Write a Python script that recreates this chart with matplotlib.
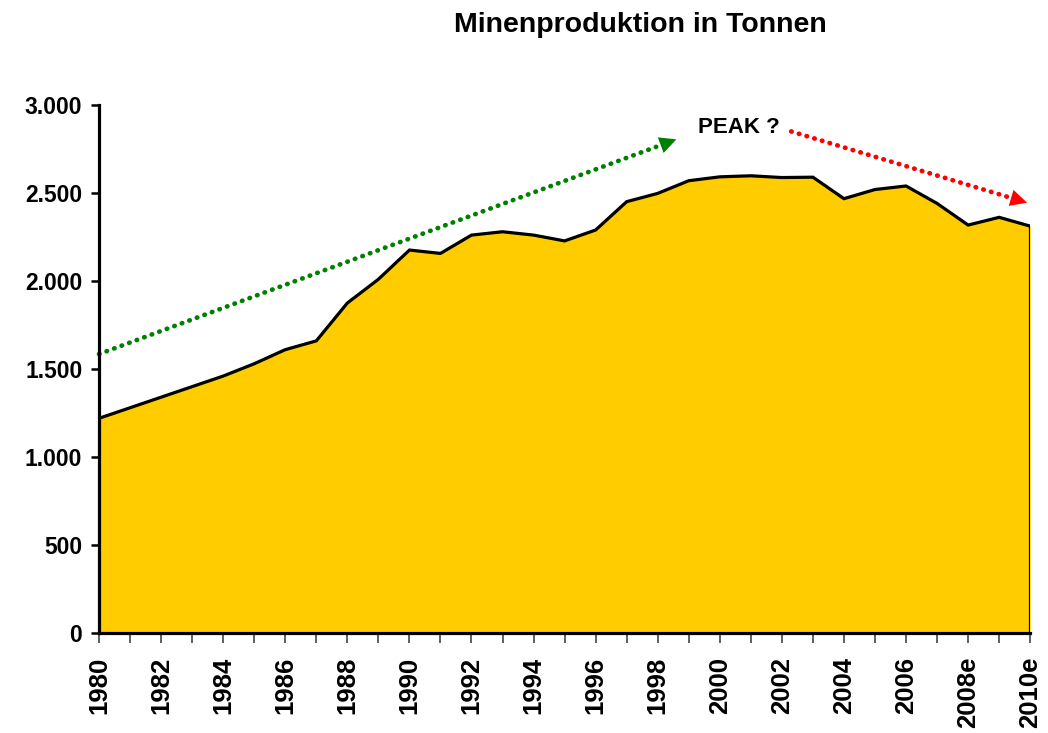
import matplotlib.pyplot as plt
from matplotlib.ticker import FuncFormatter, MultipleLocator

plt.rcParams['font.family'] = ['Liberation Sans', 'DejaVu Sans']
plt.rcParams['font.weight'] = 'bold'

# Minenproduktion in Tonnen, 1980 - 2010 (2008, 2010 geschaetzt)
jahre = list(range(1980, 2011))
tonnen = [1220, 1280, 1340, 1400, 1460, 1530, 1610, 1660, 1875, 2010,
          2176, 2157, 2261, 2280, 2261, 2228, 2290, 2451, 2498, 2570,
          2592, 2598, 2588, 2590, 2468, 2520, 2540, 2441, 2318, 2362,
          2312]
xlabels = ['1980', '1982', '1984', '1986', '1988', '1990', '1992', '1994',
           '1996', '1998', '2000', '2002', '2004', '2006', '2008e', '2010e']

# Trendpfeile (Start, Ende) in Datenkoordinaten
pfeil_gruen = [(1980.0, 1585), (1998.6, 2805)]
pfeil_rot = [(2002.3, 2850), (2009.9, 2445)]

fig = plt.figure(figsize=(10.48, 7.33), dpi=100)
ax = fig.add_axes([0.0945, 0.1364, 0.8885, 0.7203])

ax.fill_between(jahre, tonnen, 0, color='#FFCC00', lw=0)
ax.plot(jahre, tonnen, color='black', lw=2.3, solid_joinstyle='miter')
ax.plot([jahre[-1], jahre[-1]], [0, tonnen[-1]], color='black', lw=2.3)

def pfeil(p, farbe):
    (x0, y0), (x1, y1) = p
    ax.plot([x0, x1 - (x1 - x0) * 0.035], [y0, y1 - (y1 - y0) * 0.035],
            color=farbe, lw=3.4, linestyle=(0, (0.1, 1.6)),
            dash_capstyle='round', clip_on=False)
    ax.annotate('', xy=(x1, y1),
                xytext=(x1 - (x1 - x0) * 0.05, y1 - (y1 - y0) * 0.05),
                arrowprops=dict(arrowstyle='-|>', color=farbe, lw=0,
                                mutation_scale=30, shrinkA=0, shrinkB=0),
                annotation_clip=False)

pfeil(pfeil_gruen, 'green')
pfeil(pfeil_rot, 'red')

ax.text(2000.6, 2872, 'PEAK ?', fontsize=16, fontweight='bold',
        ha='center', va='center')

ax.set_xlim(1980, 2010)
ax.set_ylim(0, 3000)

ax.yaxis.set_major_locator(MultipleLocator(500))
ax.yaxis.set_major_formatter(
    FuncFormatter(lambda v, pos: '{:,.0f}'.format(v).replace(',', '.')))
ax.set_xticks(range(1980, 2011, 2))
ax.set_xticklabels(xlabels, rotation=90)
ax.set_xticks(jahre, minor=True)

ax.tick_params(axis='y', direction='out', length=6, width=1.8,
               labelsize=16.5, pad=6)
ax.tick_params(axis='x', which='both', direction='out', length=7,
               width=1.2, color='#444444', labelsize=18.5, pad=10)

for s in ['top', 'right']:
    ax.spines[s].set_visible(False)
for s in ['left', 'bottom']:
    ax.spines[s].set_linewidth(2.3)

fig.text(0.611, 0.966, 'Minenproduktion in Tonnen', fontsize=20.5,
         fontweight='bold', ha='center', va='center')

fig.savefig('out.png', dpi=100)
